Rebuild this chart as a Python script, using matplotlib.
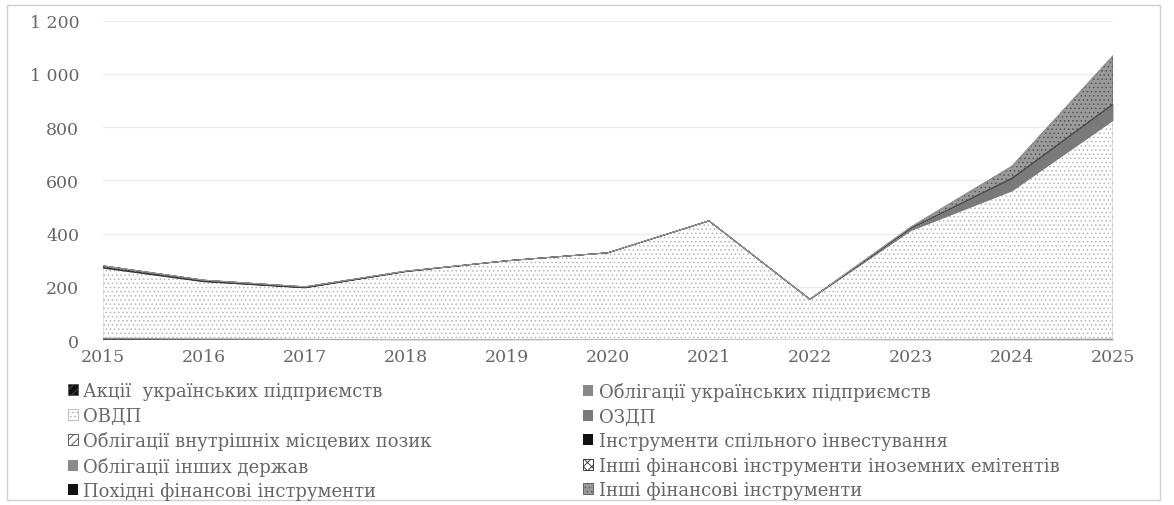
import numpy as np
import matplotlib.pyplot as plt
from matplotlib.patches import Rectangle

plt.rcParams['font.family'] = ['DejaVu Serif', 'Liberation Serif']
plt.rcParams['hatch.linewidth'] = 0.6

years = [2015, 2016, 2017, 2018, 2019, 2020, 2021, 2022, 2023, 2024, 2025]

akcii_ukr = [6, 4, 2, 1, 1, 1, 1, 0, 1, 1, 1]
oblig_ukr = [2, 2, 1, 1, 1, 0, 0, 0, 1, 2, 3]
ovdp = [262, 213, 193, 255, 296, 327, 447, 153, 410, 558, 822]
ozdp = [0, 0, 0, 0, 0, 0, 0, 0, 8, 45, 58]
mistsevi = [3, 2, 1, 1, 0, 0, 0, 0, 0, 0, 0]
spilne_inv = [0, 0, 0, 0, 0, 0, 0, 0, 0, 1, 1]
inshi_derzhavy = [0, 0, 0, 0, 0, 0, 0, 0, 1, 2, 3]
inozemni = [6, 4, 3, 1, 0, 0, 0, 0, 0, 0, 0]
pokhidni = [0, 0, 0, 0, 0, 0, 0, 0, 0, 0, 0]
inshi = [0, 0, 0, 0, 0, 0, 0, 0, 4, 44, 180]

names = [
    "Акції  українських підприємств",
    "Облігації українських підприємств",
    "ОВДП",
    "ОЗДП",
    "Облігації внутрішніх місцевих позик",
    "Інструменти спільного інвестування",
    "Облігації інших держав",
    "Інші фінансові інструменти іноземних емітентів",
    "Похідні фінансові інструменти",
    "Інші фінансові інструменти",
]
series = [akcii_ukr, oblig_ukr, ovdp, ozdp, mistsevi, spilne_inv,
          inshi_derzhavy, inozemni, pokhidni, inshi]

# face, hatch, hatch colour
styles = [
    ("#111111", "////", "#555555"),
    ("#888888", None, "#888888"),
    ("#ffffff", "....", "#b5b5b5"),
    ("#7a7a7a", None, "#7a7a7a"),
    ("#ffffff", "////", "#444444"),
    ("#111111", None, "#111111"),
    ("#8a8a8a", None, "#8a8a8a"),
    ("#ffffff", "xxxx", "#222222"),
    ("#111111", None, "#111111"),
    ("#9a9a9a", "....", "#555555"),
]

fig = plt.figure(figsize=(11.74, 5.06), dpi=100)
ax = fig.add_axes([0.0877, 0.326, 0.8603, 0.631])

x = np.array(years)
base = np.zeros(len(years))
handles = []
for name, vals, (fc, hatch, hc) in zip(names, series, styles):
    top = base + np.array(vals)
    h = ax.fill_between(x, base, top, facecolor=fc, edgecolor=hc,
                        hatch=hatch, linewidth=0.6 if hatch else 0,
                        label=name)
    handles.append(h)
    base = top

# outline of the total
ax.plot(x, base, color="#9a9a9a", linewidth=0.8)

ax.set_xlim(2015, 2025)
ax.set_ylim(0, 1200)
ax.set_yticks(range(0, 1201, 200))
ax.set_yticklabels([f"{v:,}".replace(",", " ") for v in range(0, 1201, 200)])
ax.set_xticks(years)
ax.set_xticklabels([str(y) for y in years])
ax.tick_params(axis='both', length=0, labelsize=12.5, colors="#666666")
ax.tick_params(axis='y', pad=17)
ax.tick_params(axis='x', pad=6)
ax.grid(axis='y', color="#ececec", linewidth=1)
ax.set_axisbelow(True)
for s in ax.spines.values():
    s.set_visible(False)
ax.axhline(0, color="#bdbdbd", linewidth=1)

# legend: two columns placed separately
leg_kw = dict(loc="upper left", frameon=False, fontsize=13,
              handlelength=0.55, handleheight=0.55, handletextpad=0.3,
              labelspacing=0.36, borderaxespad=0, borderpad=0,
              labelcolor="#666666")
left = [0, 2, 4, 6, 8]
right = [1, 3, 5, 7, 9]
fig.legend([handles[i] for i in left], [names[i] for i in left],
           bbox_to_anchor=(0.058, 0.243), **leg_kw)
fig.legend([handles[i] for i in right], [names[i] for i in right],
           bbox_to_anchor=(0.497, 0.243), **leg_kw)

fig.patches.append(Rectangle((0.006, 0.01), 0.982, 0.978, transform=fig.transFigure,
                             fill=False, edgecolor="#d0d0d0", linewidth=1))

fig.savefig("out.png", dpi=100)
